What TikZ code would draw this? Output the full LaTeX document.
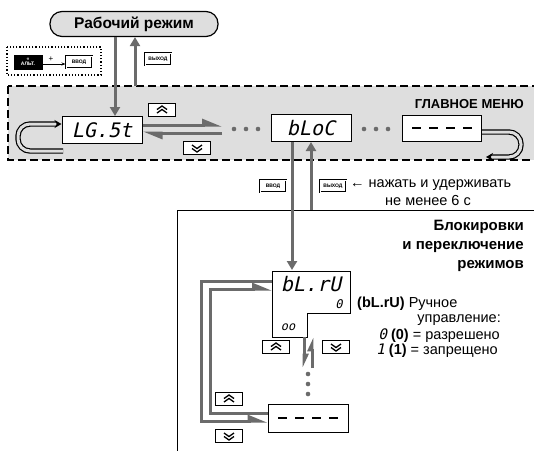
\documentclass[tikz,border=0pt]{standalone}
\usepackage{fontspec}
\setmainfont{Liberation Sans}
\newfontfamily\segfont{DejaVu Sans Mono}[FakeSlant=0.22]
\usetikzlibrary{arrows.meta,calc,positioning}

\definecolor{menugray}{gray}{0.87}
\definecolor{arrowgray}{gray}{0.42}
\newcommand{\dashrow}{\rule{9pt}{2.2pt}\hspace{8pt}\rule{9pt}{2.2pt}\hspace{8pt}\rule{9pt}{2.2pt}\hspace{8pt}\rule{9pt}{2.2pt}}

\tikzset{
  disp/.style={draw,line width=1pt,fill=white,minimum width=80pt,minimum height=27pt,
    inner sep=0pt,font=\segfont\fontsize{20}{20}\selectfont},
  keybox/.style={draw,line width=1pt,fill=white,minimum width=27pt,minimum height=13pt,
    inner sep=0pt,font=\fontsize{5}{5}\selectfont\bfseries},
  upkey/.style={keybox,path picture={
    \draw[line width=1.3pt] ([shift={(-5pt,-3pt)}]path picture bounding box.center) -- ++(5pt,3.5pt) -- ++(5pt,-3.5pt);
    \draw[line width=1.3pt] ([shift={(-5pt,0.5pt)}]path picture bounding box.center) -- ++(5pt,3.5pt) -- ++(5pt,-3.5pt);}},
  downkey/.style={keybox,path picture={
    \draw[line width=1.3pt] ([shift={(-5pt,3pt)}]path picture bounding box.center) -- ++(5pt,-3.5pt) -- ++(5pt,3.5pt);
    \draw[line width=1.3pt] ([shift={(-5pt,-0.5pt)}]path picture bounding box.center) -- ++(5pt,-3.5pt) -- ++(5pt,3.5pt);}},
  flow/.style={draw=arrowgray,line width=3pt},
  fulltip/.style={-{Triangle[length=9pt,width=10pt]}},
  harp/.style={-{Triangle[harpoon,length=16pt,width=12pt]}},
  shortharp/.style={-{Triangle[harpoon,length=11pt,width=9pt]}},
  loopline/.style={draw=black,line width=1.2pt,double=menugray,double distance=3pt,
    rounded corners=12pt,-{Stealth[length=7pt,width=8pt]}},
  txt/.style={inner sep=0pt,font=\fontsize{14.5}{16}\selectfont},
}

\begin{document}
\begin{tikzpicture}[x=1pt,y=-1pt]
\useasboundingbox (0,0) rectangle (534,451);

% main menu band
\draw[line width=1.6pt,dash pattern=on 8pt off 4pt,fill=menugray] (8,86) rectangle (560,160);
\node[txt,font=\bfseries\fontsize{13}{15}\selectfont,anchor=east] (menutitle) at (524,104) {ГЛАВНОЕ МЕНЮ};

% working mode
\node[draw,line width=1.2pt,fill=menugray,rounded corners=12pt,minimum width=168pt,
  minimum height=25pt,inner sep=0pt,font=\bfseries\fontsize{15.5}{16}\selectfont] (work) at (134,24) {Рабочий режим};

% key combination
\draw[line width=1.2pt,dotted] (7,47) rectangle (101,75);
\node[draw,fill=black,text=white,minimum width=28pt,minimum height=14pt,inner sep=0pt,
  align=center,font=\fontsize{5}{5}\selectfont\bfseries] (altkey) at (28,62) {<<\\АЛЬТ.};
\node[keybox,double,double distance=0.8pt,minimum width=26pt,minimum height=12pt] (enter0) at (79,62) {ВВОД};
\node[inner sep=0pt,font=\fontsize{8}{8}\selectfont] (plus) at (51,59) {+};
\draw[-{Stealth[length=4pt]},line width=0.8pt] ([yshift=-2pt]altkey.east) -- ([yshift=-2pt]enter0.west);
\node[keybox,double,double distance=0.8pt,minimum width=26pt,minimum height=12pt] (exit0) at (158,59) {ВЫХОД};

% menu items
\node[disp] (LGSt) at (102,130) {LG.5t};
\node[disp] (bLoC) at (311,128) {bLoC};
\node[disp,minimum width=79pt,minimum height=26pt] (dashA) at (442,128) {\dashrow};
\coordinate (dotsA) at (222,129);
\foreach \x in {234,246,258} \fill[arrowgray] (\x,129) circle (2.3pt);
\foreach \x in {364,376,388} \fill[arrowgray] (\x,129) circle (2.3pt);

\draw[flow,fulltip] (work.south -| 115,0) -- (LGSt.north -| 115,0);
\draw[flow,fulltip] (135,86) -- (work.south -| 135,0);

\draw[flow,harp] (LGSt.east |- 0,125) -- (dotsA |- 0,125);
\draw[flow,harp] (dotsA |- 0,133) -- (LGSt.east |- 0,133);
\node[upkey] (up1) at (162,110) {};
\node[downkey] (down1) at (197,148) {};

\draw[loopline] (63,151) -- (18,151) -- (18,124) -- (LGSt.west |- 0,124);
\draw[loopline] (dashA.east |- 0,132) -- (521,132) -- (521,157) -- (486,157);

% hold keys
\node[keybox,double,double distance=0.8pt,minimum width=26pt,minimum height=12pt] (enter1) at (273,186) {ВВОД};
\node[keybox,double,double distance=0.8pt,minimum width=26pt,minimum height=12pt] (exit1) at (333,186) {ВЫХОД};
\node[txt,anchor=west] (hold1) at (350,185) {← нажать и удерживать};
\node[txt,anchor=west] (hold2) at (385,200) {не менее 6 с};

% lower panel
\draw[line width=1pt] (534,210) -- (177,210) -- (177,451);
\node[anchor=north east,align=right,inner sep=0pt,
  font=\bfseries\fontsize{15}{19}\selectfont] (paneltitle) at (524,220) {Блокировки\\и переключение\\режимов};

\draw[line width=1pt,fill=white] (272,271) -- (350,271) -- (350,313) -- (307,313) -- (307,337) -- (272,337) -- cycle;
\node[inner sep=0pt,font=\segfont\fontsize{20}{20}\selectfont] (blru) at (311,284) {bL.rU};
\node[inner sep=0pt,font=\segfont\fontsize{12}{12}\selectfont] (blruval) at (339,304) {0};
\node[inner sep=0pt,font=\segfont\fontsize{12}{12}\selectfont] (blrusub) at (288,327) {oo};

\draw[flow,fulltip] (bLoC.south -| 292,0) -- (292,270);
\draw[flow,fulltip] (311,210) -- (bLoC.south -| 311,0);

\draw[flow,shortharp] (304,337) -- (304,368);
\draw[flow,shortharp] (312,368) -- (312,337);
\node[upkey] (up2) at (276,347) {};
\node[downkey] (down2) at (336,347) {};
\foreach \y in {374,384,394} \fill[arrowgray] (308,\y) circle (2.3pt);

\node[disp,minimum width=80pt,minimum height=28pt] (dashB) at (308,418) {\dashrow};
\draw[flow,harp] (dashB.west |- 0,413) -- (210,413) -- (210,289) -- (272,289);
\draw[flow,harp] (272,281) -- (201,281) -- (201,421) -- (dashB.west |- 0,421);
\node[upkey] (up3) at (229,399) {};
\node[downkey] (down3) at (229,436) {};

% description
\node[txt,anchor=west] (desc1) at (357,304) {\textbf{(bL.rU)} Ручное};
\node[txt,anchor=east] (desc2) at (501,320) {управление:};
\node[txt,anchor=east] (desc3) at (500,336) {{\segfont 0} \textbf{(0)} = разрешено};
\node[txt,anchor=east] (desc4) at (498,351) {{\segfont 1} \textbf{(1)} = запрещено};
\end{tikzpicture}
\end{document}
